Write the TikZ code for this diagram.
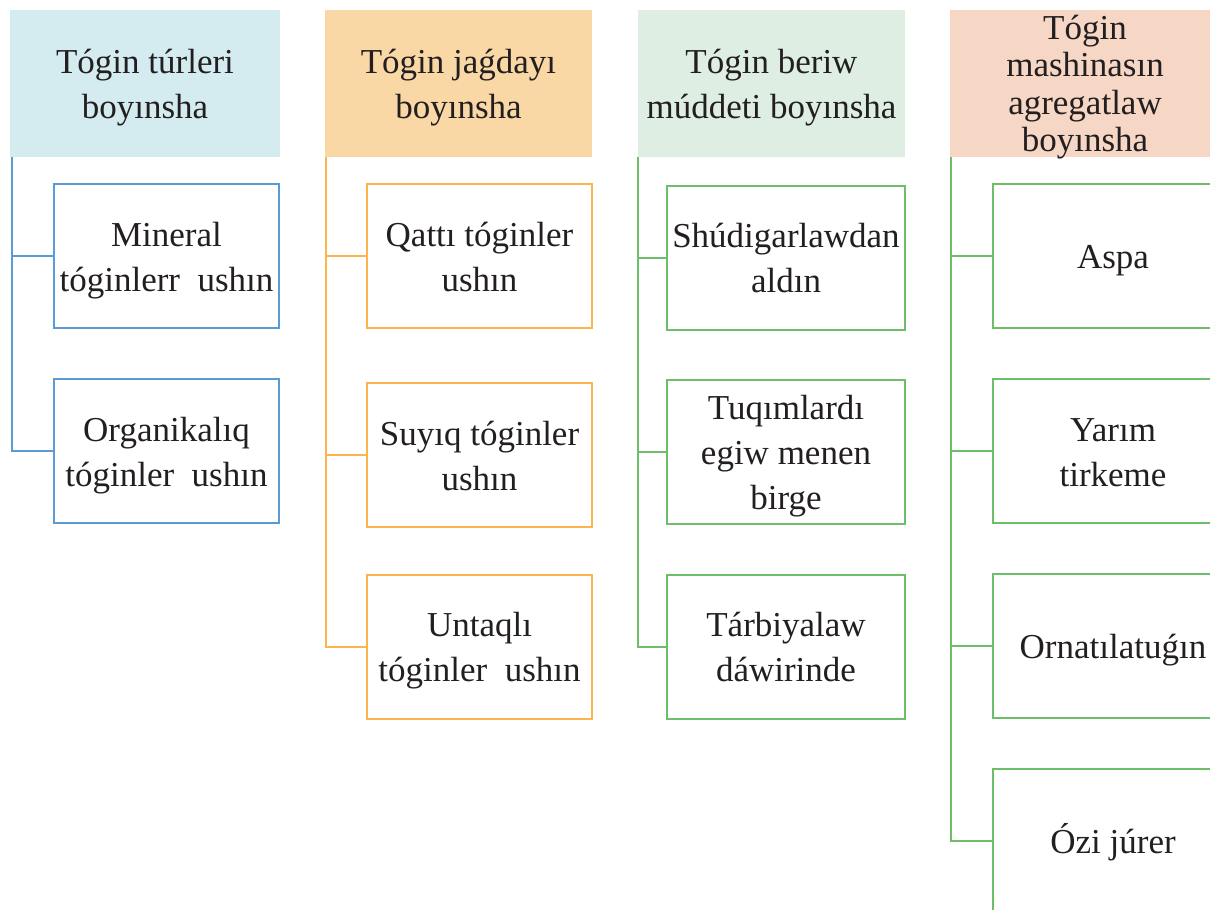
\documentclass[tikz,border=0pt]{standalone}
\usepackage{fontspec}
\setmainfont{Liberation Serif}
\usepackage{tikz}
\usetikzlibrary{positioning, calc}
\usepackage{xcolor}
\definecolor{blueline}{HTML}{5B9BD5}
\definecolor{orangeline}{HTML}{FDB44F}
\definecolor{greenline}{HTML}{6CBF68}
\definecolor{bluefill}{HTML}{D4ECEF}
\definecolor{orangefill}{HTML}{FAD8A6}
\definecolor{greenfill}{HTML}{DEEEE2}
\definecolor{redfill}{HTML}{F6D6C5}
\definecolor{textcol}{HTML}{231F20}
% struts that set the first and last line of a box
\newcommand{\topstrut}{\rule{0pt}{17pt}}
\newcommand{\botstrut}{\rule[-4.5pt]{0pt}{0pt}}
\tikzset{
    headbox/.style={
        rectangle,
        draw=none,
        inner sep=0pt,
        minimum height=73.5pt,
        align=center,
        text=textcol,
        font=\fontsize{17.5}{22.5}\selectfont
    },
    itembox/.style={
        rectangle,
        fill=white,
        line width=1pt,
        inner sep=0pt,
        minimum height=72pt,
        align=center,
        text=textcol,
        font=\fontsize{17.5}{22.5}\selectfont
    },
    branch/.style={
        line width=1pt
    }
}

\begin{document}
\begin{tikzpicture}[
        x=0.5pt, y=-0.5pt,
        bluebox/.style={itembox, draw=blueline, minimum width=112.5pt},
        orangebox/.style={itembox, draw=orangeline, minimum width=112.5pt},
        greenbox/.style={itembox, draw=greenline, minimum width=119pt},
        aggbox/.style={itembox, draw=greenline, minimum width=120pt}
      ]
      \clip (0,0) rectangle (1210,910);
      \fill[white] (0,0) rectangle (1210,910);

      % headers
      \node[headbox, fill=bluefill, minimum width=135pt]     (h1) at (145, 83.5)   {\topstrut Tógin túrleri\\boyınsha\botstrut};
      \node[headbox, fill=orangefill, minimum width=133.5pt] (h2) at (458.5, 83.5) {\topstrut Tógin jaǵdayı\\boyınsha\botstrut};
      \node[headbox, fill=greenfill, minimum width=133.5pt]  (h3) at (771.5, 83.5) {\topstrut Tógin beriw\\múddeti boyınsha\botstrut};
      \node[headbox, fill=redfill, minimum width=135pt,
            font=\fontsize{17.5}{18.75}\selectfont]          (h4) at (1085, 83.5)
            {\rule{0pt}{14.5pt}Tógin\\mashinasın\\agregatlaw\\\smash{boyınsha}\rule[-2.75pt]{0pt}{0pt}};

      % first column
      \node[bluebox] (mineral) at (166.5, 256) {\topstrut Mineral\\tóginlerr~ ushın\botstrut};
      \node[bluebox] (organic) at (166.5, 451) {\topstrut Organikalıq\\tóginler~ ushın\botstrut};

      % second column
      \node[orangebox] (hard)   at (479.5, 256)   {\topstrut Qattı tóginler\\ushın\botstrut};
      \node[orangebox] (liquid) at (479.5, 455)   {\topstrut Suyıq tóginler\\ushın\botstrut};
      \node[orangebox] (powder) at (479.5, 646.5) {\topstrut Untaqlı\\tóginler~ ushın\botstrut};

      % third column
      \node[greenbox] (before) at (786, 257.5) {\topstrut Shúdigarlawdan\\aldın\botstrut};
      \node[greenbox] (sowing) at (786, 451.5) {\topstrut Tuqımlardı\\egiw menen\\birge\botstrut};
      \node[greenbox] (care)   at (786, 646.5) {\topstrut Tárbiyalaw\\dáwirinde\botstrut};

      % fourth column
      \node[aggbox] (hung)    at (1113, 256) {\topstrut Aspa\botstrut};
      \node[aggbox] (trailed) at (1113, 451) {\topstrut Yarım\\tirkeme\botstrut};
      \node[aggbox] (mounted) at (1113, 646) {\topstrut Ornatılatuǵın\botstrut};
      \node[aggbox] (self)    at (1113, 841) {\topstrut Ózi júrer\botstrut};

      \draw[branch, blueline] ([xshift=1pt]h1.south west) |- (mineral.west);
      \draw[branch, blueline] ([xshift=1pt]h1.south west) |- (organic.west);

      \draw[branch, orangeline] ([xshift=0.5pt]h2.south west) |- (hard.west);
      \draw[branch, orangeline] ([xshift=0.5pt]h2.south west) |- (liquid.west);
      \draw[branch, orangeline] ([xshift=0.5pt]h2.south west) |- (powder.west);

      \draw[branch, greenline] (h3.south west) |- (before.west);
      \draw[branch, greenline] (h3.south west) |- (sowing.west);
      \draw[branch, greenline] (h3.south west) |- (care.west);

      \draw[branch, greenline] ([xshift=0.5pt]h4.south west) |- (hung.west);
      \draw[branch, greenline] ([xshift=0.5pt]h4.south west) |- (trailed.west);
      \draw[branch, greenline] ([xshift=0.5pt]h4.south west) |- (mounted.west);
      \draw[branch, greenline] ([xshift=0.5pt]h4.south west) |- (self.west);
    \end{tikzpicture}
\end{document}
